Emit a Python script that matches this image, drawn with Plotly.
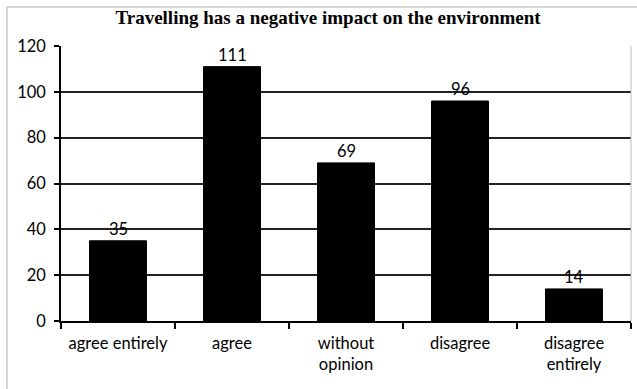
import plotly.graph_objects as go

categories = ["agree entirely", "agree", "without<br>opinion", "disagree", "disagree<br>entirely"]
values = [35, 111, 69, 96, 14]
y_ticks = [0, 20, 40, 60, 80, 100, 120]
title_text = "Travelling has a negative impact on the environment"

FONT = "Lato"
FS = 16.5

fig = go.Figure(go.Bar(
    x=categories, y=values,
    marker=dict(color="black", line=dict(color="black", width=1)),
    cliponaxis=False, width=0.5,
))
for c, v in zip(categories, values):
    fig.add_annotation(x=c, y=v, text=str(v), showarrow=False, yanchor="bottom", yshift=0,
                       font=dict(family=FONT, size=FS, color="black"))

fig.update_layout(
    width=637, height=389,
    margin=dict(l=61, r=6, t=46, b=68),
    paper_bgcolor="white", plot_bgcolor="white",
    showlegend=False,
    title=dict(text="<b>" + title_text + "</b>", x=0.515, xanchor="center", y=0.955, yanchor="middle",
               font=dict(family="Liberation Serif", size=19, color="black")),
    font=dict(family=FONT, size=FS, color="black"),
    bargap=0.5,
)
fig.update_xaxes(
    showline=True, linecolor="black", linewidth=1.5,
    ticks="outside", tickson="boundaries", ticklen=6, tickcolor="black", tickwidth=1.5,
    tickfont=dict(family=FONT, size=FS, color="black"),
    ticklabelstandoff=6,
    showgrid=False,
)
fig.update_yaxes(
    range=[0, 120], tickvals=y_ticks,
    showline=True, linecolor="black", linewidth=1.5,
    ticks="outside", ticklen=5, tickcolor="black", tickwidth=1.5,
    showgrid=True, gridcolor="#222", gridwidth=1.5,
    zeroline=False,
    ticklabelstandoff=5,
    tickfont=dict(family=FONT, size=FS, color="black"),
)
# plot area right border
fig.add_shape(type="line", xref="x domain", yref="y domain", x0=1, x1=1, y0=0, y1=1,
              line=dict(color="#bbbbbb", width=1))
# outer frame (top and left edges)
fig.add_shape(type="line", xref="paper", yref="paper", x0=-54/570, x1=1.2, y0=1 + 39/275, y1=1 + 39/275,
              line=dict(color="#c8c8c8", width=1.5))
fig.add_shape(type="line", xref="paper", yref="paper", x0=-54/570, x1=-54/570, y0=-0.4, y1=1 + 39/275,
              line=dict(color="#c8c8c8", width=1.5))

fig.write_html("out.html")
